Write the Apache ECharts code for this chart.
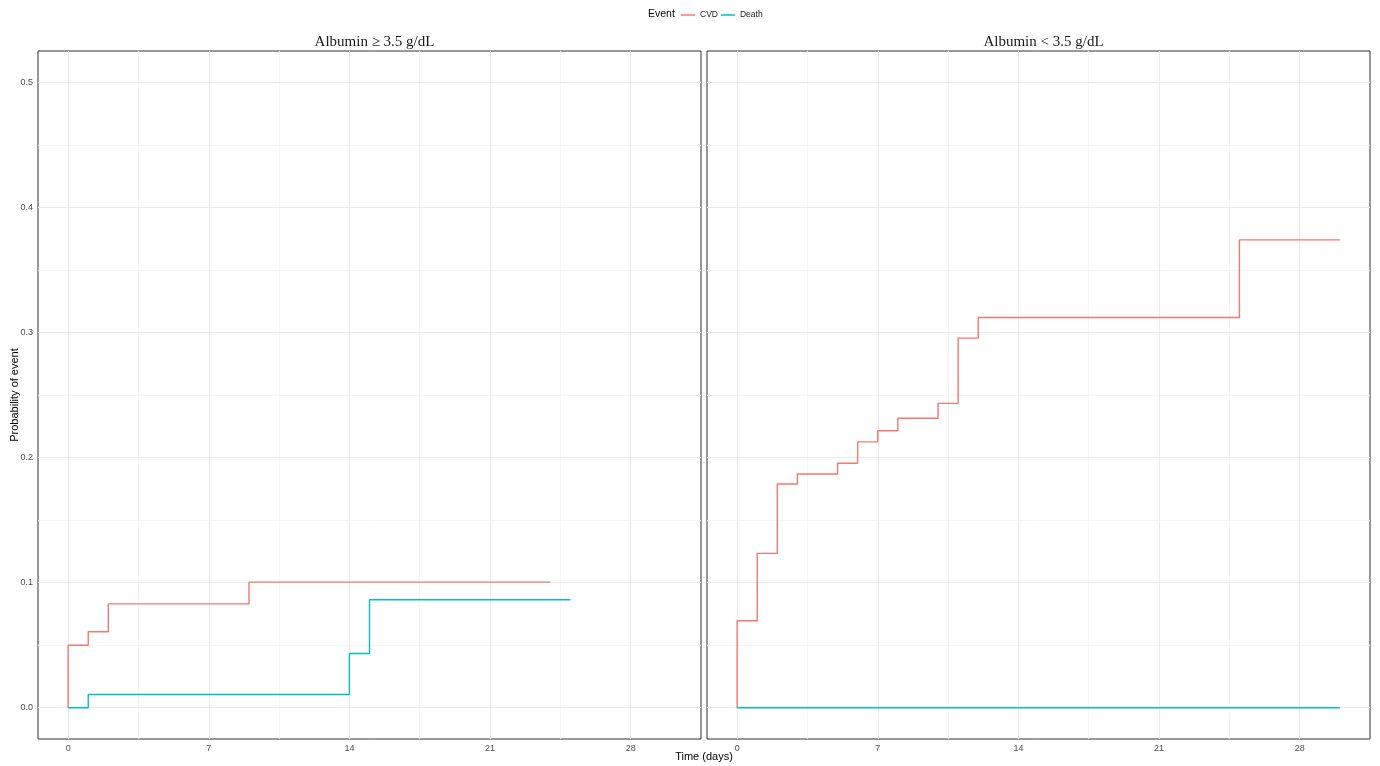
<!DOCTYPE html>
<html>
<head>
<meta charset="utf-8">
<script src="https://cdn.jsdelivr.net/npm/echarts@6/dist/echarts.min.js"></script>
<style>html,body{margin:0;padding:0;background:#fff}#c{width:1380px;height:766px}</style>
</head>
<body>
<div id="c"></div>
<script>
const panelTitles = ['Albumin \u2265 3.5 g/dL', 'Albumin < 3.5 g/dL'];
const seriesNames = ['CVD', 'Death'];
const xTicks = [0, 7, 14, 21, 28];
const xMinorGrid = [3.5, 10.5, 17.5, 24.5];
const yTicks = [0, 0.1, 0.2, 0.3, 0.4, 0.5];
const yMinorGrid = [0.05, 0.15, 0.25, 0.35, 0.45];

const leftCvdTime = [0, 0, 1, 2, 9, 24];
const leftCvdProb = [0, 0.050, 0.0607, 0.083, 0.1004, 0.1004];
const leftDeathTime = [0, 1, 14, 15, 25];
const leftDeathProb = [0, 0.0106, 0.0434, 0.0863, 0.0863];
const rightCvdTime = [0, 0, 1, 2, 3, 5, 6, 7, 8, 10, 11, 12, 25, 30];
const rightCvdProb = [0, 0.0695, 0.1234, 0.1789, 0.1869, 0.1954, 0.2125, 0.2214, 0.2314, 0.2433, 0.2955, 0.3120, 0.3740, 0.3740];
const rightDeathTime = [0, 30];
const rightDeathProb = [0, 0];

const colors = ['#F8766D', '#00BFC4'];
const pairs = (t, p) => t.map((v, i) => [v, p[i]]);

const grids = [
  {left: 38, top: 51, width: 663, height: 688},
  {left: 707, top: 51, width: 663, height: 688}
];

function gridLines(gi) {
  const major = {color: '#ebebeb', width: 1.1, type: 'solid'};
  const minor = {color: '#f4f4f4', width: 0.8, type: 'solid'};
  const d = [];
  xTicks.forEach(v => d.push({xAxis: v, lineStyle: major}));
  xMinorGrid.forEach(v => d.push({xAxis: v, lineStyle: minor}));
  yTicks.forEach(v => d.push({yAxis: v, lineStyle: major}));
  yMinorGrid.forEach(v => d.push({yAxis: v, lineStyle: minor}));
  return {
    type: 'line', xAxisIndex: gi, yAxisIndex: gi, data: [], z: 1, silent: true,
    markLine: {silent: true, z: 1, symbol: ['none', 'none'], label: {show: false}, animation: false, data: d}
  };
}

function stepSeries(name, gi, t, p, ci, z) {
  return {
    name: name, type: 'line', step: 'end', xAxisIndex: gi, yAxisIndex: gi,
    data: pairs(t, p), showSymbol: false, symbol: 'none', z: z,
    lineStyle: {color: colors[ci], width: 1.4}, itemStyle: {color: colors[ci]},
    animation: false
  };
}

const xAxisBase = (gi) => ({
  type: 'value', gridIndex: gi, min: -1.5, max: 31.5,
  axisLine: {show: false},
  splitLine: {show: false},
  axisTick: {show: true, length: 3, lineStyle: {color: '#333', width: 1}, customValues: xTicks},
  axisLabel: {show: true, customValues: xTicks, fontSize: 9, color: '#4d4d4d', margin: 5, fontFamily: 'Liberation Sans'}
});
const yAxisBase = (gi) => ({
  type: 'value', gridIndex: gi, min: -0.025, max: 0.525,
  axisLine: {show: false},
  splitLine: {show: false},
  axisTick: {show: gi === 0, length: 3, lineStyle: {color: '#333', width: 1}, customValues: yTicks},
  axisLabel: {show: gi === 0, customValues: yTicks, fontSize: 9, color: '#4d4d4d', margin: 5,
    fontFamily: 'Liberation Sans', formatter: v => v.toFixed(1)},
  name: gi === 0 ? 'Probability of event' : '',
  nameLocation: 'middle', nameGap: 18, nameMoveOverlap: false,
  nameTextStyle: {fontSize: 11, color: '#000', fontFamily: 'Liberation Sans'}
});

const option = {
  backgroundColor: '#fff',
  animation: false,
  title: panelTitles.map((t, i) => ({
    text: t, left: grids[i].left + grids[i].width / 2, top: 30, textAlign: 'center',
    textStyle: {fontFamily: 'Liberation Serif', fontSize: 15, fontWeight: 'normal', color: '#1a1a1a'}
  })),
  legend: {
    data: seriesNames.map(n => ({name: n, icon: 'rect'})),
    left: 681, top: 9, itemWidth: 14, itemHeight: 1.5, itemGap: 3,
    padding: 0,
    textStyle: {fontSize: 8.5, color: '#1a1a1a', fontFamily: 'Liberation Sans', lineHeight: 12}
  },
  graphic: [
    {type: 'text', x: 648, y: 14, style: {text: 'Event', fontSize: 10.5, fill: '#000', fontFamily: 'Liberation Sans', textVerticalAlign: 'middle'}},
    {type: 'text', x: 704, y: 757, style: {text: 'Time (days)', fontSize: 11, fill: '#000', fontFamily: 'Liberation Sans', textAlign: 'center', textVerticalAlign: 'middle'}}
  ],
  grid: grids.map(g => Object.assign({show: true, borderColor: '#333', borderWidth: 1, backgroundColor: 'transparent'}, g)),
  xAxis: [xAxisBase(0), xAxisBase(1)],
  yAxis: [yAxisBase(0), yAxisBase(1)],
  series: [
    gridLines(0), gridLines(1),
    stepSeries('CVD', 0, leftCvdTime, leftCvdProb, 0, 3),
    stepSeries('Death', 0, leftDeathTime, leftDeathProb, 1, 4),
    stepSeries('CVD', 1, rightCvdTime, rightCvdProb, 0, 3),
    stepSeries('Death', 1, rightDeathTime, rightDeathProb, 1, 4)
  ]
};
const chart = echarts.init(document.getElementById('c'), null, {renderer: 'canvas'});
chart.setOption(option);
</script>
</body>
</html>
